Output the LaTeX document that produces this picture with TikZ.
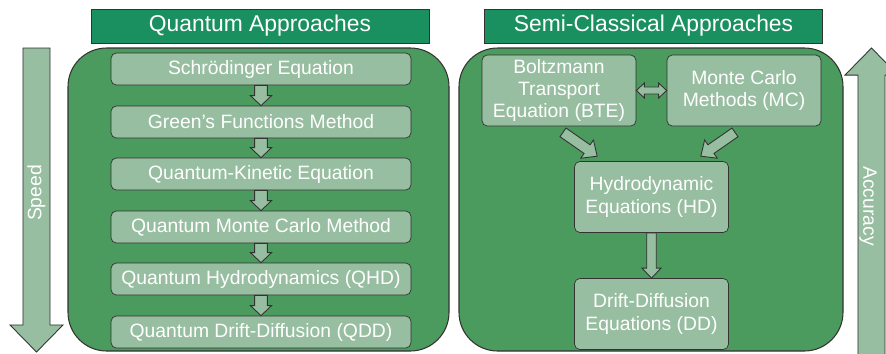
\documentclass[tikz,border=0pt]{standalone}
\usepackage{fontspec}
\setmainfont{Liberation Sans}
\usetikzlibrary{calc}

\definecolor{titlegreen}{HTML}{1A9060}
\definecolor{panelgreen}{HTML}{4B9A5E}
\definecolor{lightgreen}{HTML}{97BEA0}
\definecolor{edgegray}{HTML}{333333}

\tikzset{
  titlebox/.style={draw=edgegray, fill=titlegreen, text=white, minimum width=6.76cm, minimum height=0.68cm, inner sep=0pt, font=\fontsize{13}{15}\selectfont},
  panel/.style={draw=edgegray, fill=panelgreen, rounded corners=22pt, line width=0.6pt},
  qbox/.style={draw=edgegray, fill=lightgreen, rounded corners=3pt, text=white, minimum width=6cm, minimum height=0.64cm, inner sep=0pt, font=\fontsize{11}{12.8}\selectfont},
  sbox/.style={qbox, minimum width=3.08cm, minimum height=1.42cm, align=center},
  arrowfill/.style={draw=edgegray, fill=lightgreen, line width=0.5pt, line join=miter},
  sidetext/.style={text=white, font=\fontsize{11}{12.8}\selectfont, inner sep=0pt}
}

% block arrow: shaft half width, head half width, head length, from, to
\newcommand{\blockarrow}[5]{%
  \coordinate (ba-s) at (#4);
  \coordinate (ba-t) at (#5);
  \coordinate (ba-h) at ($(ba-t)!#3!(ba-s)$);
  \filldraw[arrowfill] ($(ba-s)!#1!90:(ba-t)$) -- ($(ba-h)!#1!90:(ba-t)$) -- ($(ba-h)!#2!90:(ba-t)$) -- (ba-t)
    -- ($(ba-h)!#2!-90:(ba-t)$) -- ($(ba-h)!#1!-90:(ba-t)$) -- ($(ba-s)!#1!-90:(ba-t)$) -- cycle;
}
% same with a head at both ends
\newcommand{\blockboth}[5]{%
  \coordinate (bb-s) at (#4);
  \coordinate (bb-t) at (#5);
  \coordinate (bb-hs) at ($(bb-s)!#3!(bb-t)$);
  \coordinate (bb-ht) at ($(bb-t)!#3!(bb-s)$);
  \filldraw[arrowfill] (bb-s) -- ($(bb-hs)!#2!90:(bb-t)$) -- ($(bb-hs)!#1!90:(bb-t)$) -- ($(bb-ht)!#1!90:(bb-t)$) -- ($(bb-ht)!#2!90:(bb-t)$) -- (bb-t)
    -- ($(bb-ht)!#2!-90:(bb-t)$) -- ($(bb-ht)!#1!-90:(bb-t)$) -- ($(bb-hs)!#1!-90:(bb-t)$) -- ($(bb-hs)!#2!-90:(bb-t)$) -- cycle;
}

\begin{document}
\begin{tikzpicture}[x=0.02cm,y=-0.02cm]
\useasboundingbox (0,0) rectangle (886,353);
\clip (0,0) rectangle (886,353);
%-------->titles<--------------
\node[titlebox] (qtitle) at (260,26) {Quantum Approaches};
\node[titlebox] (stitle) at (653.5,26) {Semi-Classical Approaches};
%-------->panels<--------------
\draw[panel] (68,48) rectangle (449,351);
\draw[panel] (459,48) rectangle (843,351);
%-------->quantum nodes<--------------
\node[qbox] (schr) at (261,69) {Schrödinger Equation};
\node[qbox] (green) at (261,122) {Green’s Functions Method};
\node[qbox] (qke) at (261,174) {Quantum-Kinetic Equation};
\node[qbox] (qmc) at (261,227) {Quantum Monte Carlo Method};
\node[qbox] (qhd) at (261,279) {Quantum Hydrodynamics (QHD)};
\node[qbox] (qdd) at (261,332) {Quantum Drift-Diffusion (QDD)};
%-------->semi-classical nodes<--------------
\node[sbox] (bte) at (559,90.5) {Boltzmann\\Transport\\Equation (BTE)};
\node[sbox] (mc) at (744,90.5) {Monte Carlo\\Methods (MC)};
\node[sbox] (hd) at (651.5,197) {Hydrodynamic\\Equations (HD)};
\node[sbox] (dd) at (651.5,314) {Drift-Diffusion\\Equations (DD)};
%------------->quantum arrows<------------------
\blockarrow{3.6pt}{6pt}{5.7pt}{schr.south}{green.north}
\blockarrow{3.6pt}{6pt}{5.7pt}{green.south}{qke.north}
\blockarrow{3.6pt}{6pt}{5.7pt}{qke.south}{qmc.north}
\blockarrow{3.6pt}{6pt}{5.7pt}{qmc.south}{qhd.north}
\blockarrow{3.6pt}{6pt}{5.7pt}{qhd.south}{qdd.north}
%------------->semi-classical arrows<------------------
\blockboth{2pt}{4.3pt}{4.6pt}{bte.east}{mc.west}
\blockarrow{3pt}{6.3pt}{7pt}{$(bte.south)+(4,6)$}{$(hd.north west)+(23,-5)$}
\blockarrow{3pt}{6.3pt}{7pt}{$(mc.south)+(-9,6)$}{$(hd.north east)+(-28,-5)$}
\blockarrow{2.7pt}{5.4pt}{5.7pt}{hd.south}{dd.north}
%------------->side arrows<------------------
\coordinate (speedtop) at (36.5,48);
\coordinate (speedtip) at (36.5,352);
\blockarrow{7.7pt}{15.1pt}{15.4pt}{speedtop}{speedtip}
\node[sidetext, rotate=90] (speed) at (36.5,193) {Speed};
\coordinate (accbase) at (871.5,360);
\coordinate (acctip) at (871.5,48);
\blockarrow{7.7pt}{15.1pt}{15.4pt}{accbase}{acctip}
\node[sidetext, rotate=-90] (acc) at (868,206) {Accuracy};
\end{tikzpicture}
\end{document}
